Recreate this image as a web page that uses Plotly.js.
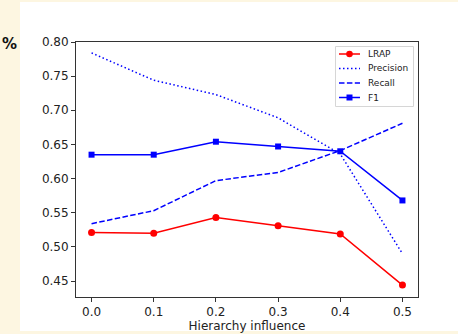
<!DOCTYPE html>
<html>
<head>
<meta charset="utf-8">
<script src="https://cdn.plot.ly/plotly-3.0.1.min.js"></script>
<style>html,body{margin:0;padding:0;background:#fdf6e1;}#chart{width:458px;height:334px;}</style>
</head>
<body>
<div id="chart"></div>
<script>
const influence = [0.0, 0.1, 0.2, 0.3, 0.4, 0.5];
const lrap = [0.521, 0.520, 0.543, 0.531, 0.519, 0.444];
const precision = [0.784, 0.744, 0.723, 0.689, 0.636, 0.490];
const recall = [0.534, 0.553, 0.597, 0.609, 0.641, 0.681];
const f1 = [0.635, 0.635, 0.654, 0.647, 0.640, 0.568];
const xTicks = [0.0, 0.1, 0.2, 0.3, 0.4, 0.5];
const xTickText = ['0.0', '0.1', '0.2', '0.3', '0.4', '0.5'];
const yTicks = [0.45, 0.50, 0.55, 0.60, 0.65, 0.70, 0.75, 0.80];
const yTickText = ['0.45', '0.50', '0.55', '0.60', '0.65', '0.70', '0.75', '0.80'];
const seriesNames = ['LRAP', 'Precision', 'Recall', 'F1'];

const font = 'DejaVu Sans, sans-serif';
const W = 458, H = 334, ML = 76, MR = 40, MT = 42, MB = 37;
const PW = W - ML - MR, PH = H - MT - MB;
const px = v => (v - ML) / PW;
const py = v => (H - MB - v) / PH;

const DOT = '1.5px,2.5px', DASH = '5.5px,2.4px';
const styles = [
  {line: {color: 'red', width: 1.5}, marker: {color: 'red', symbol: 'circle', size: 7}, mode: 'lines+markers'},
  {line: {color: 'blue', width: 1.5, dash: DOT}, mode: 'lines'},
  {line: {color: 'blue', width: 1.5, dash: DASH}, mode: 'lines'},
  {line: {color: 'blue', width: 1.5}, marker: {color: 'blue', symbol: 'square', size: 6}, mode: 'lines+markers'}
];
const values = [lrap, precision, recall, f1];
const traces = values.map((vals, i) => Object.assign({x: influence, y: vals, name: seriesNames[i]}, styles[i]));

// custom compact legend (matplotlib-like)
const shapes = [
  {type: 'rect', xref: 'paper', yref: 'paper', x0: px(20), x1: px(470), y0: py(331), y1: py(2),
   fillcolor: 'white', line: {width: 0}, layer: 'below'},
  {type: 'rect', xref: 'paper', yref: 'paper', x0: px(335.5), x1: px(413.5), y0: py(106.5), y1: py(46.5),
   fillcolor: 'white', line: {color: '#d6d6d6', width: 1}, layer: 'above'}
];
const annotations = [
  {text: '<b>%</b>', xref: 'paper', yref: 'paper', x: px(0), y: py(44),
   xanchor: 'left', yanchor: 'middle', showarrow: false, font: {family: font, size: 15, color: '#111'}}
];
const rowsY = [54, 68.5, 83, 97.5];
const lx0 = 339, lx1 = 360, lxm = 349.5, tx = 366;
rowsY.forEach((ry, i) => {
  const st = styles[i];
  shapes.push({type: 'line', xref: 'paper', yref: 'paper', x0: px(lx0), x1: px(lx1), y0: py(ry), y1: py(ry),
    line: {color: st.line.color, width: 1.5, dash: st.line.dash || 'solid'}, layer: 'above'});
  if (st.marker) {
    const r = st.marker.symbol === 'circle' ? 3.3 : 3;
    shapes.push({type: st.marker.symbol === 'circle' ? 'circle' : 'rect', xref: 'paper', yref: 'paper',
      x0: px(lxm - r), x1: px(lxm + r), y0: py(ry + r), y1: py(ry - r),
      fillcolor: st.marker.color, line: {width: 0}, layer: 'above'});
  }
  annotations.push({text: seriesNames[i], xref: 'paper', yref: 'paper', x: px(tx), y: py(ry),
    xanchor: 'left', yanchor: 'middle', showarrow: false, font: {family: font, size: 9, color: '#222'}});
});

const axisCommon = {showline: true, mirror: true, linecolor: '#333', linewidth: 1,
  ticks: 'outside', ticklen: 4, tickcolor: '#333', showgrid: false, zeroline: false,
  tickfont: {family: font, size: 12, color: '#222'}};
const layout = {
  width: W, height: H,
  margin: {l: ML, r: MR, t: MT, b: MB},
  paper_bgcolor: '#fdf6e1', plot_bgcolor: 'white',
  font: {family: font, color: '#222'},
  xaxis: Object.assign({}, axisCommon, {range: [-0.025, 0.525], tickvals: xTicks, ticktext: xTickText,
    title: {text: 'Hierarchy influence', font: {family: font, size: 12, color: '#222'}, standoff: 2}}),
  yaxis: Object.assign({}, axisCommon, {range: [0.4266, 0.80], tickvals: yTicks, ticktext: yTickText}),
  showlegend: false,
  shapes: shapes,
  annotations: annotations
};
Plotly.newPlot('chart', traces, layout, {displayModeBar: false, staticPlot: true});
</script>
</body>
</html>
